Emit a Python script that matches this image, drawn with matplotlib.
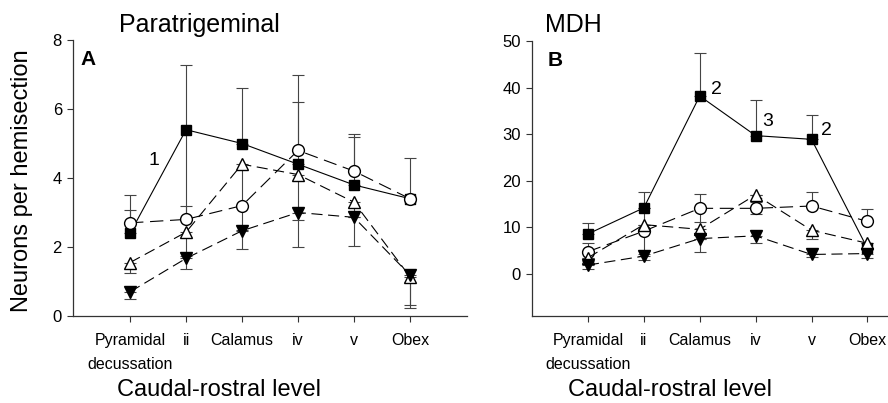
import matplotlib
matplotlib.use("Agg")
import matplotlib.pyplot as plt
import numpy as np

plt.rcParams['font.family'] = ['Liberation Sans', 'DejaVu Sans']

levels = ["Pyramidal\ndecussation", "ii", "Calamus", "iv", "v", "Obex"]

# Panel A: Paratrigeminal
a_sq = [2.4, 5.4, 5.0, 4.4, 3.8, 3.4]
a_sq_lo = [0, 2.6, 0, 0, 0, 0]
a_sq_hi = [1.1, 1.87, 1.6, 2.6, 1.47, 1.19]
a_ci = [2.7, 2.8, 3.2, 4.8, 4.2, 3.4]
a_ci_lo = [0, 0, 0.7, 0, 0, 0]
a_ci_hi = [0.37, 0.4, 0, 1.4, 0.98, 0]
a_tu = [1.55, 2.43, 4.4, 4.1, 3.3, 1.14]
a_tu_lo = [0.31, 0.7, 1.2, 2.09, 1.27, 0.9]
a_tu_hi = [0, 0, 0, 0, 0, 0]
a_td = [0.7, 1.67, 2.47, 3.0, 2.86, 1.19]
a_td_lo = [0.22, 0.31, 0.53, 0.23, 0, 0.88]
a_td_hi = [0, 0, 0, 0, 0, 0]

# Panel B: MDH
b_sq = [8.6, 14.2, 38.2, 29.7, 28.9, 5.5]
b_sq_lo = [0, 0, 0, 0, 0, 0]
b_sq_hi = [2.4, 3.4, 9.2, 7.6, 5.3, 0]
b_ci = [4.8, 9.2, 14.1, 14.1, 14.6, 11.3]
b_ci_lo = [1.9, 5.0, 3.0, 1.3, 0, 0]
b_ci_hi = [1.9, 5.0, 3.0, 1.3, 2.9, 2.6]
b_tu = [3.5, 10.6, 9.6, 17.0, 9.4, 6.6]
b_tu_lo = [0, 0, 2.0, 0, 1.8, 0]
b_tu_hi = [0, 0, 0, 0, 0, 0]
b_td = [1.93, 3.85, 7.6, 8.2, 4.2, 4.4]
b_td_lo = [0.8, 0.85, 2.8, 1.6, 0.6, 0.9]
b_td_hi = [0, 0, 0, 0, 0, 0]

fig = plt.figure(figsize=(8.88, 4.03), dpi=100)
axA = fig.add_axes([73/888, 87/403, 394/888, 276/403])
axB = fig.add_axes([532/888, 87/403, 355/888, 275/403])

x = np.arange(len(levels))

styles = [
    dict(marker='s', mfc='black', ms=7.5, dashes=None),
    dict(marker='o', mfc='white', ms=8.5, dashes=(12, 6)),
    dict(marker='^', mfc='white', ms=8, dashes=(10, 5)),
    dict(marker='v', mfc='black', ms=8, dashes=(10, 5)),
]

def draw(ax, series):
    for (vals, lo, hi), st in zip(series, styles):
        ax.errorbar(x, vals, yerr=[lo, hi], fmt='none', ecolor='#444444',
                    elinewidth=0.8, capsize=4, capthick=0.8, zorder=1)
    for (vals, lo, hi), st in zip(series, styles):
        kw = dict(color='black', lw=0.8, marker=st['marker'], mfc=st['mfc'],
                  mec='black', mew=1.0, ms=st['ms'], zorder=3)
        line, = ax.plot(x, vals, **kw)
        if st['dashes'] is not None:
            line.set_dashes(st['dashes'])
    ax.spines['top'].set_visible(False)
    ax.spines['right'].set_visible(False)
    for s in ('left', 'bottom'):
        ax.spines[s].set_color('#333333')
        ax.spines[s].set_linewidth(0.9)
    ax.set_xticks(x)
    ax.set_xticklabels(levels, fontsize=11.5, linespacing=1.75)
    ax.tick_params(axis='both', direction='out', length=4, width=0.8,
                   color='#333333', labelsize=12, pad=4)
    ax.tick_params(axis='x', pad=8, labelsize=11.5)

draw(axA, [(a_sq, a_sq_lo, a_sq_hi), (a_ci, a_ci_lo, a_ci_hi),
           (a_tu, a_tu_lo, a_tu_hi), (a_td, a_td_lo, a_td_hi)])
draw(axB, [(b_sq, b_sq_lo, b_sq_hi), (b_ci, b_ci_lo, b_ci_hi),
           (b_tu, b_tu_lo, b_tu_hi), (b_td, b_td_lo, b_td_hi)])

axA.set_xlim(-1.02, 6.02)
axA.set_ylim(0, 8)
axA.set_yticks([0, 2, 4, 6, 8])
axB.set_xlim(-1.0, 5.35)
axB.set_ylim(-9, 50)
axB.set_yticks([0, 10, 20, 30, 40, 50])

fig.text(219/888, 1 - 390/403, "Caudal-rostral level", fontsize=17,
         ha='center', va='center')
fig.text(670/888, 1 - 390/403, "Caudal-rostral level", fontsize=17,
         ha='center', va='center')
fig.text(22/888, 1 - 181/403, "Neurons per hemisection", rotation=90,
         fontsize=17, ha='center', va='center')

fig.text(119/888, 1 - 25/403, "Paratrigeminal", fontsize=18, ha='left', va='center')
fig.text(545/888, 1 - 25/403, "MDH", fontsize=18, ha='left', va='center')

axA.text(0.02, 0.93, "A", transform=axA.transAxes, fontsize=15, fontweight='bold',
         ha='left', va='center')
axB.text(0.045, 0.93, "B", transform=axB.transAxes, fontsize=15, fontweight='bold',
         ha='left', va='center')

axA.text(0.43, 4.5, "1", fontsize=14, ha='center', va='center')
axB.text(2.3, 39.6, "2", fontsize=14, ha='center', va='center')
axB.text(3.22, 32.8, "3", fontsize=14, ha='center', va='center')
axB.text(4.27, 30.8, "2", fontsize=14, ha='center', va='center')

fig.savefig("out.png", dpi=100)
